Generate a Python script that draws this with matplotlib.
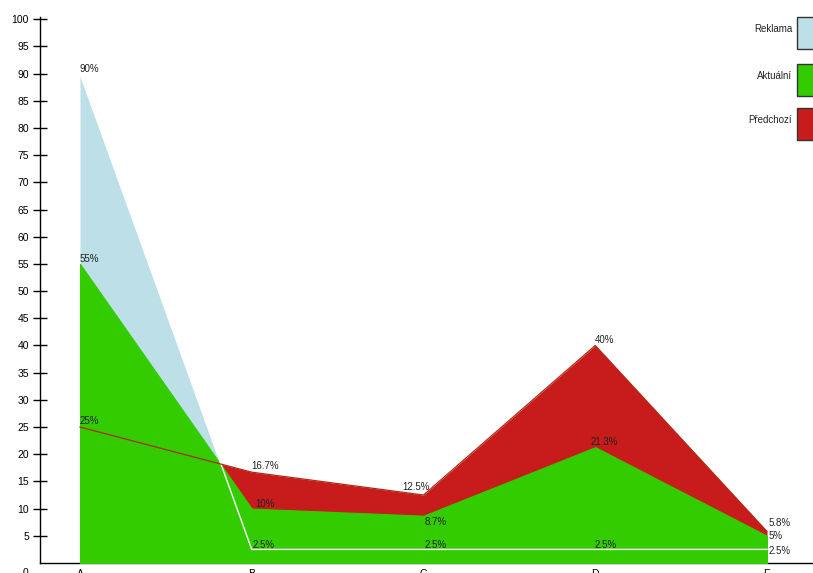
import matplotlib.pyplot as plt
from matplotlib.patches import Rectangle
from matplotlib.transforms import offset_copy

plt.rcParams['font.family'] = ['Liberation Sans', 'DejaVu Sans']

# ==================== Data ====================
categories = ['A', 'B', 'C', 'D', 'E']
reklama = [90, 2.5, 2.5, 2.5, 2.5]
aktualni = [55, 10, 8.7, 21.3, 5]
predchozi = [25, 16.7, 12.5, 40, 5.8]

series_names = ['Reklama', 'Aktuální', 'Předchozí']
colors = ['#bddfe8', '#33cc00', '#c81c1c']

# label offsets (px) from the point, per series
off_reklama = [(0, 5), (1, 4), (1, 4), (-1, 4), (2, -2)]
off_aktualni = [(0, 5), (4, 5), (1, -6), (-5, 5), (2, 0)]
off_predchozi = [(0, 6), (0, 6), (-21, 8), (0, 5), (2, 8)]

W, H = 813, 573
fig = plt.figure(figsize=(W / 100, H / 100), dpi=100)
ax = fig.add_axes([40 / W, (H - 563) / H, 1 - 40 / W, 546 / H])

x = list(range(len(categories)))
ax.set_xlim((40 - 80) / 171.75, (813 - 80) / 171.75)
ax.set_ylim(0, 100.4)

# ==================== Areas ====================
ax.fill_between(x, 0, reklama, color=colors[0], lw=0, zorder=3)
ax.fill_between(x, 0, predchozi, color=colors[2], lw=0, zorder=3.1)
ax.fill_between(x, 0, aktualni, facecolor=colors[1], edgecolor=colors[1],
                lw=0.8, zorder=3.2)
ax.plot(x, reklama, color='white', lw=1.0, zorder=4)
ax.plot(x, predchozi, color='#b02a14', lw=0.9, zorder=4)


def fmt(v):
    return ('%g' % v) + '%'


for vals, offs in [(reklama, off_reklama), (aktualni, off_aktualni), (predchozi, off_predchozi)]:
    for xi, v, (dx, dy) in zip(x, vals, offs):
        tr = offset_copy(ax.transData, fig=fig, x=dx, y=dy, units='dots')
        ax.text(xi, v, fmt(v), transform=tr, ha='left', va='center',
                fontsize=7, color='#222222', zorder=5)

# ==================== Axes ====================
for s in ['top', 'right']:
    ax.spines[s].set_visible(False)
ax.spines['left'].set_linewidth(1.0)
ax.spines['bottom'].set_linewidth(1.0)
ax.spines['bottom'].set_zorder(2.5)

ax.set_yticks(range(5, 101, 5))
ax.tick_params(axis='y', direction='inout', length=10, width=1, labelsize=7.5,
               pad=3, colors='black')
ax.set_xticks(x)
ax.set_xticklabels(categories)
ax.tick_params(axis='x', length=0, pad=4, labelsize=7.5)
fig.text(25 / W, (H - 568) / H, '0', ha='center', va='top', fontsize=7.5)

# ==================== Legend ====================
box_top = [17, 64, 108]
for name, c, top in zip(series_names, colors, box_top):
    fig.patches.append(Rectangle((797 / W, (H - top - 32) / H), 30 / W, 32 / H,
                                 transform=fig.transFigure, facecolor=c,
                                 edgecolor='#333333', lw=1))
    fig.text(792 / W, (H - top - 12) / H, name, ha='right', va='center',
             fontsize=7, color='#222222')

plt.savefig('out.png', dpi=100)
